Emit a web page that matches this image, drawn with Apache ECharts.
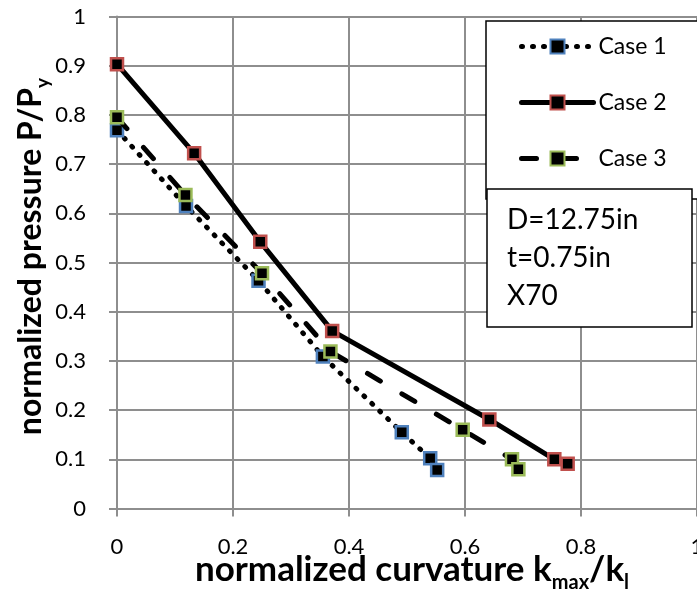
<!DOCTYPE html>
<html>
<head>
<meta charset="utf-8">
<script src="https://cdn.jsdelivr.net/npm/echarts@6/dist/echarts.min.js"></script>
<style>
html,body{margin:0;padding:0;background:#fff;}
#chart{width:697px;height:592px;}
</style>
</head>
<body>
<div id="chart"></div>
<script>
// ---- data ----
const seriesNames = ['Case 1', 'Case 2', 'Case 3'];
const case1X = [0, 0.119, 0.244, 0.355, 0.491, 0.540, 0.552];
const case1Y = [0.769, 0.615, 0.463, 0.309, 0.155, 0.102, 0.078];
const case2X = [0, 0.133, 0.247, 0.371, 0.642, 0.754, 0.777];
const case2Y = [0.903, 0.722, 0.542, 0.361, 0.181, 0.100, 0.091];
const case3X = [0, 0.118, 0.250, 0.368, 0.596, 0.681, 0.692];
const case3Y = [0.795, 0.637, 0.478, 0.319, 0.160, 0.100, 0.080];
const xTicks = [0, 0.2, 0.4, 0.6, 0.8, 1];
const yTicks = [0, 0.1, 0.2, 0.3, 0.4, 0.5, 0.6, 0.7, 0.8, 0.9, 1];
const noteLines = ['D=12.75in', 't=0.75in', 'X70'];

const FONT = 'Lato';
const gridColor = '#8e8e8e';
const markerBorders = ['#4F81BD', '#C0504D', '#9BBB59'];
const lineTypes = [[1, 10], 'solid', [15, 25]];

function pairs(xs, ys) { return xs.map((x, i) => [x, ys[i]]); }
const allData = [pairs(case1X, case1Y), pairs(case2X, case2Y), pairs(case3X, case3Y)];

const chart = echarts.init(document.getElementById('chart'), null, {renderer: 'canvas'});

const axisCommon = {
  type: 'value',
  nameMoveOverlap: false,
  axisLine: {show: true, lineStyle: {color: gridColor, width: 2}},
  axisTick: {show: true, inside: false, length: 8, lineStyle: {color: gridColor, width: 2}},
  splitLine: {show: true, lineStyle: {color: gridColor, width: 2}},
  axisLabel: {color: '#000', fontFamily: FONT, fontSize: 22, formatter: v => String(+v.toFixed(2)), hideOverlap: false}
};

function richName(big, small) {
  return {
    t: {fontFamily: FONT, fontWeight: 'bold', fontSize: big, color: '#000', verticalAlign: 'top'},
    s: {fontFamily: FONT, fontWeight: 'bold', fontSize: small, color: '#000', verticalAlign: 'bottom', padding: [0, 0, -5, 0]}
  };
}

chart.setOption({
  animation: false,
  backgroundColor: '#fff',
  grid: {left: 117, right: 0, top: 16.5, bottom: 83.5, containLabel: false, outerBoundsMode: 'none'},
  xAxis: Object.assign({}, axisCommon, {
    min: xTicks[0], max: xTicks[xTicks.length - 1], interval: xTicks[1] - xTicks[0],
    axisLabel: Object.assign({}, axisCommon.axisLabel, {margin: 27}),
    name: '{t|normalized curvature k}{s|max}{t|/k}{s|l}',
    nameLocation: 'middle', nameGap: 44,
    nameTextStyle: {padding: [0, 0, 0, 10], rich: richName(35, 20)}
  }),
  yAxis: Object.assign({}, axisCommon, {
    min: yTicks[0], max: yTicks[yTicks.length - 1], interval: +(yTicks[1] - yTicks[0]).toFixed(2),
    axisLabel: Object.assign({}, axisCommon.axisLabel, {margin: 31}),
    name: '{t|normalized pressure P/P}{s|y}',
    nameLocation: 'middle', nameGap: 70,
    nameTextStyle: {padding: [0, 0, 0, 12], rich: richName(32, 19)}
  }),
  legend: {
    show: true,
    orient: 'vertical',
    left: 486, top: 21,
    padding: [14, 60, 29, 33],
    itemWidth: 72, itemHeight: 17.5, itemGap: 33,
    backgroundColor: '#fff',
    borderColor: '#000', borderWidth: 1.5, borderRadius: 0,
    lineStyle: {width: 5},
    textStyle: {fontFamily: FONT, fontSize: 23, color: '#000', lineHeight: 18},
    data: seriesNames
  },
  title: {
    text: noteLines.join('\n'),
    left: 487, top: 189,
    padding: [12, 54, 12, 20],
    backgroundColor: '#fff',
    borderColor: '#000', borderWidth: 1.5,
    textStyle: {fontFamily: FONT, fontSize: 28, fontWeight: 'normal', color: '#000', lineHeight: 38}
  },
  series: seriesNames.map((name, i) => ({
    name: name,
    type: 'line',
    data: allData[i],
    symbol: 'rect',
    symbolSize: 12,
    lineStyle: {color: '#000', width: 5, type: lineTypes[i], cap: 'round'},
    itemStyle: {color: '#000', borderColor: markerBorders[i], borderWidth: 2.5},
    z: 2 + i
  }))
});
</script>
</body>
</html>
